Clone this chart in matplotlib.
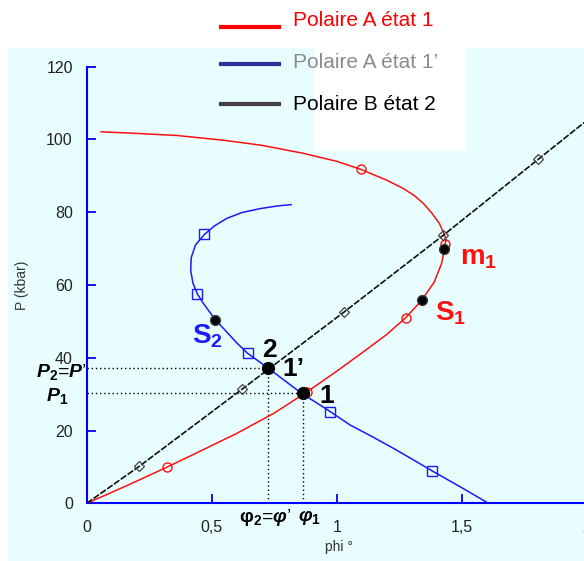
# -*- coding: utf-8 -*-
"""
Polaires de choc : P (kbar) en fonction de phi (°)
"""
import matplotlib
matplotlib.use('Agg')
import matplotlib.pyplot as plt
from matplotlib.lines import Line2D
from matplotlib.patches import Rectangle

plt.rcParams['font.family'] = ['Liberation Sans', 'DejaVu Sans']
plt.rcParams['mathtext.fontset'] = 'custom'
plt.rcParams['mathtext.rm'] = 'Liberation Sans:bold'
plt.rcParams['mathtext.bf'] = 'Liberation Sans:bold'
plt.rcParams['mathtext.it'] = 'Liberation Sans:bold:italic'

# Polaire A état 1 (rouge)
phi_a1 = [0, 0.1, 0.2, 0.32, 0.45, 0.6, 0.75, 0.883, 1.0, 1.1, 1.2, 1.276, 1.34,
          1.39, 1.42, 1.434, 1.437, 1.43, 1.41, 1.38, 1.347, 1.31, 1.267, 1.2,
          1.096, 1.0, 0.866, 0.7, 0.546, 0.36, 0.16, 0.058]
p_a1 = [0, 3.0, 6.1, 9.9, 14.2, 19.2, 24.8, 30.7, 36.3, 41.3, 46.4, 51.0, 55.8,
        60.8, 66.0, 71.4, 72.4, 74.0, 77.0, 79.8, 82.4, 84.6, 86.5, 88.8,
        91.8, 94.0, 96.2, 98.4, 99.8, 101.1, 101.8, 102.1]
phi_a1_mk = [0.32, 0.883, 1.276, 1.434, 1.096]
p_a1_mk = [9.9, 30.7, 51.0, 71.4, 91.8]

# Polaire A état 1' (bleu)
phi_a1p = [1.607, 1.5, 1.382, 1.3, 1.227, 1.14, 1.054, 0.974, 0.92, 0.864, 0.8,
           0.727, 0.644, 0.6, 0.56, 0.514, 0.467, 0.443, 0.425, 0.416, 0.418,
           0.435, 0.471, 0.51, 0.56, 0.62, 0.694, 0.76, 0.818]
p_a1p = [0, 4.3, 8.9, 12.2, 15.1, 18.4, 21.5, 25.2, 27.6, 30.0, 33.3,
         37.1, 41.2, 44.1, 47.1, 50.5, 54.9, 57.5, 60.5, 64.0, 67.5,
         71.0, 73.9, 76.2, 78.3, 79.9, 81.0, 81.7, 82.1]
phi_a1p_mk = [1.382, 0.974, 0.644, 0.443, 0.471]
p_a1p_mk = [8.9, 25.2, 41.2, 57.5, 73.9]

# Polaire B état 2 (noir)
phi_b2 = [0, 0.211, 0.62, 1.03, 1.427, 1.807, 2.0]
p_b2 = [0, 10.2, 31.3, 52.6, 73.7, 94.6, 105.2]
phi_b2_mk = [0.211, 0.62, 1.03, 1.427, 1.807]
p_b2_mk = [10.2, 31.3, 52.6, 73.7, 94.6]

# points remarquables : m1, S1, S2, 2, 1
phi_pts = [1.431, 1.343, 0.514]
p_pts = [70.0, 56.0, 50.5]
phi_2, p_2 = 0.727, 37.2
phi_1, p_1 = 0.864, 30.2

W, H = 584, 561
fig = plt.figure(figsize=(W / 100, H / 100), dpi=100)


def px(x, y):
    # pixels (depuis le haut à gauche) -> fraction de figure
    return x / W, 1 - y / H


# fond cyan + cadre blanc de la légende
x0 = 7.7 / W
fig.patches.append(Rectangle((x0, 0), 1 - x0, 1 - 48 / H, transform=fig.transFigure,
                             facecolor='#e8fdfd', edgecolor='none', zorder=-2))
fig.patches.append(Rectangle((314 / W, 1 - 151 / H), (466 - 314) / W, 151 / H,
                             transform=fig.transFigure, facecolor='white',
                             edgecolor='none', zorder=-1))

ax = fig.add_axes([86.7 / W, (H - 503.3) / H, 500 / W, 436.6 / H])
ax.set_zorder(2)
ax.set_facecolor('none')
ax.set_xlim(0, 2)
ax.set_ylim(0, 120)

red = '#ff1010'
blue = '#1a1aff'

ax.plot(phi_a1, p_a1, color=red, lw=1.1, zorder=3)
ax.plot(phi_a1_mk, p_a1_mk, 'o', ms=6.5, mfc='none', mec=red, mew=1, zorder=3)
ax.plot(phi_a1p, p_a1p, color=blue, lw=1.1, zorder=3)
ax.plot(phi_a1p_mk, p_a1p_mk, 's', ms=6.5, mfc='none', mec=blue, mew=1, zorder=3)
ax.plot(phi_b2, p_b2, color='#111111', lw=1.2, ls=(0, (4, 1)), zorder=3)
ax.plot(phi_b2_mk, p_b2_mk, 'D', ms=5, mfc='none', mec='#444444', mew=0.9, zorder=3)

# pointillés de lecture
ax.plot([0, phi_2], [p_2, p_2], color='black', lw=1, ls=(0, (1, 2)), zorder=2)
ax.plot([phi_2, phi_2], [0, p_2], color='black', lw=1, ls=(0, (1, 2)), zorder=2)
ax.plot([0, phi_1], [p_1, p_1], color='black', lw=1, ls=(0, (1, 2)), zorder=2)
ax.plot([phi_1, phi_1], [0, p_1], color='black', lw=1, ls=(0, (1, 2)), zorder=2)

ax.plot(phi_pts, p_pts, 'o', ms=7, color='black', mec='#333333', zorder=5)
ax.plot([phi_2, phi_1], [p_2, p_1], 'o', ms=8.5, color='black', zorder=5)

# axes
for s in ['top', 'right']:
    ax.spines[s].set_visible(False)
for s in ['left', 'bottom']:
    ax.spines[s].set_color('#0000ff')
    ax.spines[s].set_linewidth(1.5)
ax.set_xticks([0, 0.5, 1, 1.5, 2])
ax.set_xticklabels(['0', '0,5', '1', '1,5', '2'])
ax.set_yticks(range(0, 121, 20))
ax.tick_params(direction='in', color='#0000ff', width=1.3, length=6.5,
               labelsize=11.5, labelcolor='#222222')
ax.tick_params(axis='x', pad=12)
ax.tick_params(axis='y', pad=10)
ax.set_xlabel('phi °', fontsize=10, color='#333333')
ax.xaxis.set_label_coords(0.505, -0.085)
ax.set_ylabel('P (kbar)', fontsize=10, color='#333333')
ax.yaxis.set_label_coords(-0.115, 0.5)

# annotations
ax.text(1.494, 67.4, r'$\mathrm{m_1}$', color=red, fontsize=20, ha='left', va='center')
ax.text(1.393, 52.1, r'$\mathrm{S_1}$', color=red, fontsize=20, ha='left', va='center')
ax.text(0.42, 45.8, r'$\mathrm{S_2}$', color=blue, fontsize=20, ha='left', va='center')
ax.text(0.73, 42.2, '2', color='black', fontsize=19, fontweight='bold', ha='center', va='center')
ax.text(0.781, 37.0, '1’', color='black', fontsize=19, fontweight='bold', ha='left', va='center')
ax.text(0.961, 29.5, '1', color='black', fontsize=19, fontweight='bold', ha='center', va='center')
ax.text(0.0, 36.0, r'$P_2$=$P$’', color='black', fontsize=14, ha='right', va='center',
        clip_on=False)
ax.text(-0.075, 29.4, r'$P_1$', color='black', fontsize=14, ha='right', va='center',
        clip_on=False)
ax.text(0.715, -4.0, r'$\mathrm{φ_2}$=$φ$’', color='black', fontsize=14, ha='center',
        va='center', clip_on=False)
ax.text(0.893, -4.0, r'$φ_1$', color='black', fontsize=14, ha='center', va='center',
        clip_on=False)

# légende manuelle
leg = [('Polaire A état 1', '#ff0000', '#ff0000', 21, 26.7),
       ('Polaire A état 1’', '#30309c', '#8c8c8c', 63, 64.3),
       ('Polaire B état 2', '#404040', 'black', 105, 104.3)]
for label, lc, tc, ty, ly in leg:
    xa, ya = px(221, ly)
    xb, _ = px(279, ly)
    fig.add_artist(Line2D([xa, xb], [ya, ya], transform=fig.transFigure,
                          color=lc, lw=3, zorder=6))
    xt, yt = px(293, ty)
    fig.text(xt, yt, label, color=tc, fontsize=15, ha='left', va='center', zorder=6)

plt.savefig('out.png', dpi=100)
